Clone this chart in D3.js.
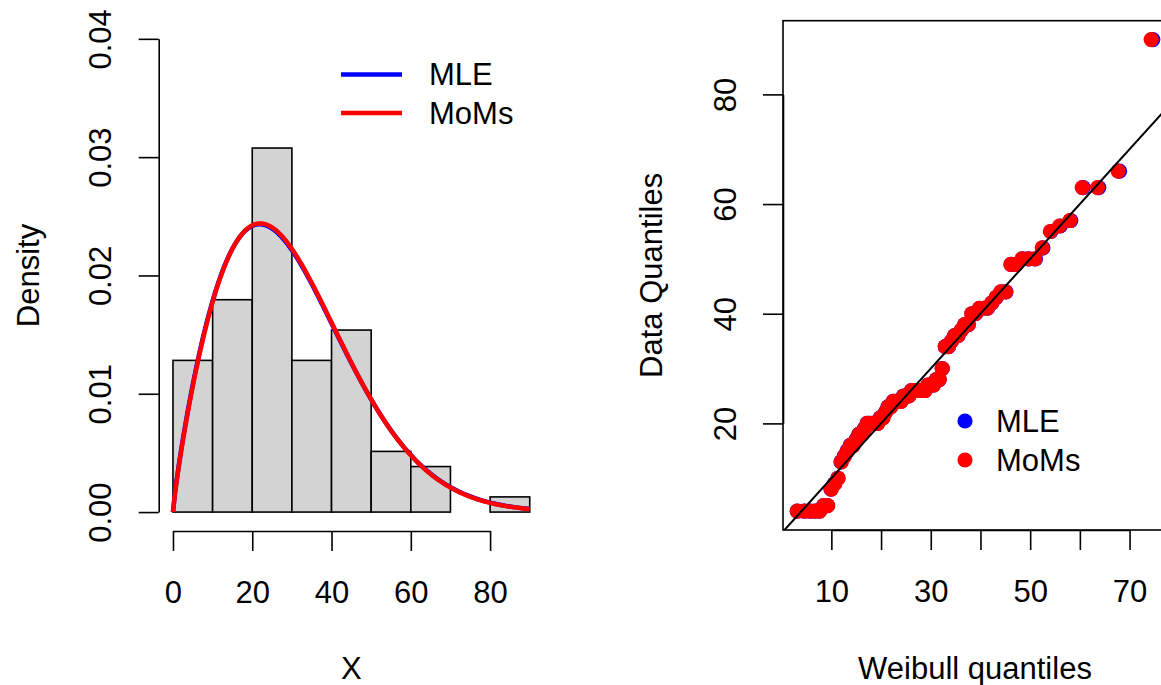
<!DOCTYPE html>
<html>
<head>
<meta charset="utf-8">
<script src="https://cdn.jsdelivr.net/npm/d3@7"></script>
<style>
  body { margin: 0; background: #fff; }
  svg { display: block; font-family: "Liberation Sans", Arial, Helvetica, sans-serif; }
</style>
</head>
<body>
<div id="chart"></div>
<script>
var width = 1161;
var height = 685;

// histogram: bins of width 10, counts (n = 78)
var binEdges = [0, 10, 20, 30, 40, 50, 60, 70, 80, 90];
var binCounts = [10, 14, 24, 10, 12, 4, 3, 0, 1];
var sampleSize = 78;

// fitted weibull parameters [shape, scale]
var fitNames = ['MLE', 'MoMs'];
var fitColors = ['#0000FF', '#FF0000'];
var fitShape = [1.84, 1.85];
var fitScale = [33.5, 33.5];

// sorted data (y of the Q-Q plot)
var dataQuantiles = [4, 4, 4, 4, 4, 5, 5, 8, 9, 10,
  13, 14, 15, 16, 16, 17, 18, 18, 19, 20, 20, 20, 20, 20,
  21, 21, 22, 23, 23, 24, 24, 24, 24, 25, 25, 25, 26, 26, 26, 26, 26, 26, 27, 27, 27, 28, 28, 30,
  34, 34, 35, 36, 36, 37, 38, 38, 40, 40,
  41, 41, 41, 42, 43, 44, 44, 49, 49, 50, 50, 50,
  52, 55, 56, 57, 63, 63, 66, 90];

// weibull quantiles (x of the Q-Q plot)
var mleQuantiles = [3.13, 4.57, 5.72, 6.71, 7.60, 8.43, 9.19, 9.92, 10.62, 11.30,
  11.94, 12.57, 13.18, 13.78, 14.36, 14.94, 15.50, 16.05, 16.62, 17.16,
  17.70, 18.23, 18.76, 19.29, 19.81, 20.33, 20.86, 21.38, 21.90, 22.42,
  22.94, 23.46, 23.99, 24.51, 25.04, 25.56, 26.09, 26.64, 27.18, 27.72,
  28.27, 28.83, 29.39, 29.96, 30.53, 31.11, 31.70, 32.30, 32.92, 33.54,
  34.17, 34.82, 35.48, 36.16, 36.84, 37.55, 38.28, 39.03, 39.81, 40.61,
  41.44, 42.30, 43.20, 44.15, 45.13, 46.17, 47.27, 48.45, 49.71, 51.07,
  52.56, 54.20, 56.05, 58.17, 60.68, 63.80, 67.98, 74.67];
var momQuantiles = [3.17, 4.62, 5.78, 6.77, 7.66, 8.49, 9.26, 9.99, 10.69, 11.37,
  12.01, 12.64, 13.25, 13.85, 14.43, 15.01, 15.57, 16.12, 16.68, 17.22,
  17.76, 18.29, 18.82, 19.35, 19.87, 20.39, 20.91, 21.43, 21.95, 22.47,
  22.99, 23.51, 24.03, 24.55, 25.08, 25.60, 26.13, 26.67, 27.21, 27.75,
  28.30, 28.85, 29.41, 29.98, 30.55, 31.12, 31.71, 32.31, 32.92, 33.54,
  34.17, 34.81, 35.47, 36.14, 36.82, 37.53, 38.25, 39.00, 39.77, 40.57,
  41.39, 42.25, 43.14, 44.08, 45.06, 46.09, 47.18, 48.35, 49.60, 50.95,
  52.43, 54.06, 55.89, 57.99, 60.48, 63.57, 67.71, 74.34];

var histYTicks = [0, 0.01, 0.02, 0.03, 0.04];
var histXTicks = [0, 20, 40, 60, 80];
var qqXTicks = [10, 20, 30, 40, 50, 60, 70];
var qqXLabels = [10, 30, 50, 70];
var qqYTicks = [20, 40, 60, 80];

var fontSize = 31;
var tickLen = 20;

var svg = d3.select('#chart')
  .append('svg')
  .attr('width', width)
  .attr('height', height);

function styleAxis(g) {
  g.attr('font-family', null).attr('font-size', null);
  g.selectAll('path, line').attr('stroke', '#000').attr('stroke-width', 1.6);
  g.selectAll('text').attr('fill', '#000').style('font-size', fontSize + 'px');
}

/*
 * left: histogram + density curves
 */
var xH = d3.scaleLinear().domain([-3.6, 93.6]).range([158.7, 544]);
var yH = d3.scaleLinear().domain([-0.0016, 0.0416]).range([531, 19.9]);

var bins = binCounts.map((c, i) => ({x0: binEdges[i], x1: binEdges[i + 1], d: c / (sampleSize * (binEdges[i + 1] - binEdges[i]))}));

svg.append('g').selectAll('rect')
  .data(bins)
  .enter()
  .append('rect')
  .attr('x', d => xH(d.x0))
  .attr('y', d => yH(d.d))
  .attr('width', d => xH(d.x1) - xH(d.x0))
  .attr('height', d => yH(0) - yH(d.d))
  .attr('fill', '#D3D3D3')
  .attr('stroke', '#000')
  .attr('stroke-width', 1.6);

function dweibull(x, k, lam) {
  var z = x / lam;
  return (k / lam) * Math.pow(z, k - 1) * Math.exp(-Math.pow(z, k));
}

var curveX = d3.range(0, 90.001, 0.5);
var densLine = d3.line().x(d => xH(d[0])).y(d => yH(d[1]));

fitNames.forEach((name, i) => {
  svg.append('path')
    .attr('d', densLine(curveX.map(x => [x, dweibull(x, fitShape[i], fitScale[i])])))
    .attr('fill', 'none')
    .attr('stroke', fitColors[i])
    .attr('stroke-width', 4.5);
});

// axes
var yHAxisScale = d3.scaleLinear().domain([0, 0.04]).range([yH(0), yH(0.04)]);
var yHAxis = svg.append('g')
  .attr('transform', 'translate(' + xH.range()[0] + ',0)')
  .call(d3.axisLeft(yHAxisScale).tickValues(histYTicks).tickFormat(d3.format('.2f')).tickSize(tickLen).tickSizeOuter(0))
  .call(styleAxis);
yHAxis.selectAll('text')
  .attr('x', null).attr('dy', null)
  .attr('text-anchor', 'middle')
  .attr('dominant-baseline', 'central')
  .attr('transform', 'translate(-58,0) rotate(-90)');

var xHAxisScale = d3.scaleLinear().domain([0, 80]).range([xH(0), xH(80)]);
var xHAxis = svg.append('g')
  .attr('transform', 'translate(0,' + yH.range()[0] + ')')
  .call(d3.axisBottom(xHAxisScale).tickValues(histXTicks).tickSize(tickLen).tickSizeOuter(0))
  .call(styleAxis);
xHAxis.selectAll('text').attr('y', 61).attr('dy', null).attr('dominant-baseline', 'central');

svg.append('text')
  .attr('x', 0).attr('y', 0)
  .attr('transform', 'translate(28,' + (yH.range()[0] + yH.range()[1]) / 2 + ') rotate(-90)')
  .attr('text-anchor', 'middle')
  .attr('dominant-baseline', 'central')
  .style('font-size', fontSize + 'px')
  .text('Density');

svg.append('text')
  .attr('x', (xH.range()[0] + xH.range()[1]) / 2)
  .attr('y', 668)
  .attr('text-anchor', 'middle')
  .attr('dominant-baseline', 'central')
  .style('font-size', fontSize + 'px')
  .text('X');

// legend (lines)
var lineLegend = svg.append('g').selectAll('g')
  .data(fitNames)
  .enter()
  .append('g')
  .attr('transform', (d, i) => 'translate(341,' + (74.5 + i * 38.5) + ')');
lineLegend.append('line')
  .attr('x1', 0).attr('x2', 61)
  .attr('stroke', (d, i) => fitColors[i])
  .attr('stroke-width', 4.5);
lineLegend.append('text')
  .attr('x', 88)
  .attr('dominant-baseline', 'central')
  .style('font-size', fontSize + 'px')
  .text(d => d);

/*
 * right: weibull Q-Q plot
 */
var xQ = d3.scaleLinear().domain([0.27, 77.53]).range([783, 1167]);
var yQ = d3.scaleLinear().domain([0.56, 93.44]).range([530, 20.7]);

svg.append('clipPath').attr('id', 'qqclip')
  .append('rect')
  .attr('x', 783).attr('y', 20.7)
  .attr('width', 1167 - 783).attr('height', 530 - 20.7);

var qqSets = [mleQuantiles, momQuantiles];
qqSets.forEach((qs, i) => {
  svg.append('g').selectAll('circle')
    .data(qs)
    .enter()
    .append('circle')
    .attr('cx', d => xQ(d))
    .attr('cy', (d, j) => yQ(dataQuantiles[j]))
    .attr('r', 7.6)
    .attr('fill', fitColors[i]);
});

// y = x reference line
svg.append('line')
  .attr('clip-path', 'url(#qqclip)')
  .attr('x1', xQ(0)).attr('y1', yQ(0))
  .attr('x2', xQ(100)).attr('y2', yQ(100))
  .attr('stroke', '#000')
  .attr('stroke-width', 2);

svg.append('rect')
  .attr('x', 783).attr('y', 20.7)
  .attr('width', 1167 - 783).attr('height', 530 - 20.7)
  .attr('fill', 'none')
  .attr('stroke', '#000')
  .attr('stroke-width', 1.6);

var xQAxisScale = d3.scaleLinear().domain([10, 70]).range([xQ(10), xQ(70)]);
var xQAxis = svg.append('g')
  .attr('transform', 'translate(0,530)')
  .call(d3.axisBottom(xQAxisScale).tickValues(qqXTicks)
    .tickFormat(d => qqXLabels.indexOf(d) >= 0 ? d : '')
    .tickSize(tickLen).tickSizeOuter(0))
  .call(styleAxis);
xQAxis.selectAll('text').attr('y', 61).attr('dy', null).attr('dominant-baseline', 'central');

var yQAxisScale = d3.scaleLinear().domain([20, 80]).range([yQ(20), yQ(80)]);
var yQAxis = svg.append('g')
  .attr('transform', 'translate(783,0)')
  .call(d3.axisLeft(yQAxisScale).tickValues(qqYTicks).tickSize(tickLen).tickSizeOuter(0))
  .call(styleAxis);
yQAxis.selectAll('text')
  .attr('x', null).attr('dy', null)
  .attr('text-anchor', 'middle')
  .attr('dominant-baseline', 'central')
  .attr('transform', 'translate(-58,0) rotate(-90)');

svg.append('text')
  .attr('x', 0).attr('y', 0)
  .attr('transform', 'translate(651,' + (530 + 20.7) / 2 + ') rotate(-90)')
  .attr('text-anchor', 'middle')
  .attr('dominant-baseline', 'central')
  .style('font-size', fontSize + 'px')
  .text('Data Quantiles');

svg.append('text')
  .attr('x', (783 + 1167) / 2)
  .attr('y', 668)
  .attr('text-anchor', 'middle')
  .attr('dominant-baseline', 'central')
  .style('font-size', fontSize + 'px')
  .text('Weibull quantiles');

// legend (points)
var pointLegend = svg.append('g').selectAll('g')
  .data(fitNames)
  .enter()
  .append('g')
  .attr('transform', (d, i) => 'translate(965,' + (421 + i * 39) + ')');
pointLegend.append('circle')
  .attr('r', 7.6)
  .attr('fill', (d, i) => fitColors[i]);
pointLegend.append('text')
  .attr('x', 31)
  .attr('dominant-baseline', 'central')
  .style('font-size', fontSize + 'px')
  .text(d => d);
</script>
</body>
</html>
